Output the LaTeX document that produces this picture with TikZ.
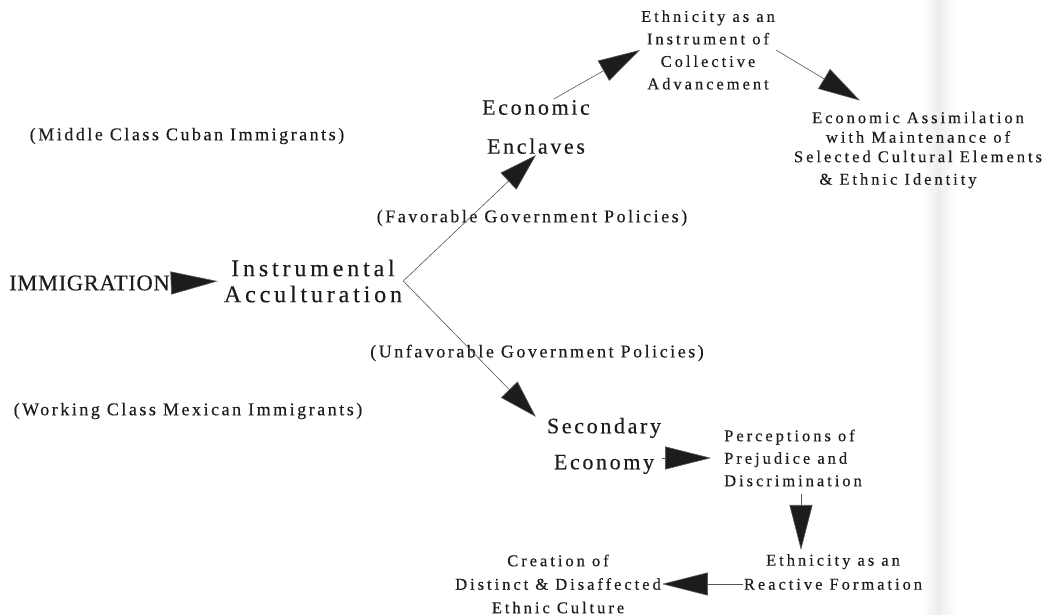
\documentclass[tikz,border=0pt]{standalone}
\usepackage{fontspec}
\setmainfont{Liberation Serif}
\newfontfamily\capsfont[LetterSpace=3,FakeBold=0.35]{Liberation Serif}
\newfontfamily\bigfont[LetterSpace=16,FakeBold=0.35]{Liberation Serif}
\newfontfamily\widefont[LetterSpace=12,FakeBold=0.35]{Liberation Serif}
\newfontfamily\midfont[LetterSpace=14,FakeBold=0.35]{Liberation Serif}
\newfontfamily\smallfont[LetterSpace=18,FakeBold=0.35]{Liberation Serif}
\usetikzlibrary{arrows.meta,calc}
\definecolor{ink}{HTML}{1C1C1C}
\tikzset{
  txt/.style={inner sep=1pt, align=center, text=ink},
  big/.style={txt, font=\bigfont\fontsize{24}{26}\selectfont},
  wide/.style={txt, font=\widefont\fontsize{22}{39}\selectfont},
  note/.style={txt, font=\midfont\fontsize{18}{20}\selectfont},
  small/.style={txt, font=\smallfont\fontsize{16.5}{22.5}\selectfont},
  arr/.style={draw=ink!75, line width=0.6pt, -{Triangle[length=#1, width=23pt, fill=ink]}},
  arr/.default=40pt
}
\begin{document}
\begin{tikzpicture}[x=1pt, y=1pt]
  \useasboundingbox (0,0) rectangle (1054,615);
  % fold in the paper
  \shade[left color=white, right color=black!7] (922,0) rectangle (938,615);
  \shade[left color=black!7, right color=white] (938,0) rectangle (956,615);

  % main chain
  \node[txt, font=\capsfont\fontsize{22.5}{26}\selectfont, anchor=west] (immig) at (8,332) {IMMIGRATION};
  \node[big] (instr) at (313,334) {Instrumental\\Acculturation};

  % upper branch
  \node[wide] (encl) at (536,488) {Economic\\Enclaves};
  \node[small] (ethn) at (708,565) {Ethnicity as an\\Instrument of\\Collective\\Advancement};
  \node[small, font=\smallfont\fontsize{16.5}{19.5}\selectfont] (assim) at (918,465)
    {Economic Assimilation\\with Maintenance of\hspace*{22pt}\\Selected Cultural Elements\\[3pt]\& Ethnic Identity\hspace*{40pt}};

  % lower branch
  \node[wide, font=\widefont\fontsize{22}{36}\selectfont] (second) at (604,169) {Secondary\\Economy};
  \node[small, align=left, anchor=west] (perc) at (723,157) {Perceptions of\\Prejudice and\\Discrimination};
  \node[small, font=\smallfont\fontsize{16.5}{24}\selectfont] (react) at (833,43) {Ethnicity as an\\Reactive Formation};
  \node[small, font=\smallfont\fontsize{16.5}{23.5}\selectfont] (creat) at (558,31) {Creation of\\Distinct \& Disaffected\\Ethnic Culture};

  % notes
  \node[note] (middle) at (187,479) {(Middle Class Cuban Immigrants)};
  \node[note] (fav) at (532,397) {(Favorable Government Policies)};
  \node[note] (unfav) at (537,262) {(Unfavorable Government Policies)};
  \node[note] (working) at (188,204) {(Working Class Mexican Immigrants)};

  % arrows
  \draw[arr=47pt, shorten <=3pt, shorten >=5pt] (immig.east) -- (instr.west);
  \draw[arr=38pt] (instr.east) -- (encl.south);
  \draw[arr=38pt] (instr.east) -- ([xshift=-10pt]second.north west);
  \draw[arr=42pt] ([xshift=18pt]encl.north) -- (ethn.west);
  \draw[arr=42pt] (ethn.east) -- ([xshift=-58pt,yshift=10pt]assim.north);
  \draw[arr=46pt] (second.east |- perc.west) -- ([xshift=-12pt]perc.west);
  \coordinate (mid) at ($(perc.south)!.2!(react.north)$);
  \draw[arr=45pt, shorten <=6pt, shorten >=3pt] (mid |- perc.south) -- (mid |- react.north);
  \draw[arr=46pt] (react.west |- creat.east) -- (creat.east);
\end{tikzpicture}
\end{document}
